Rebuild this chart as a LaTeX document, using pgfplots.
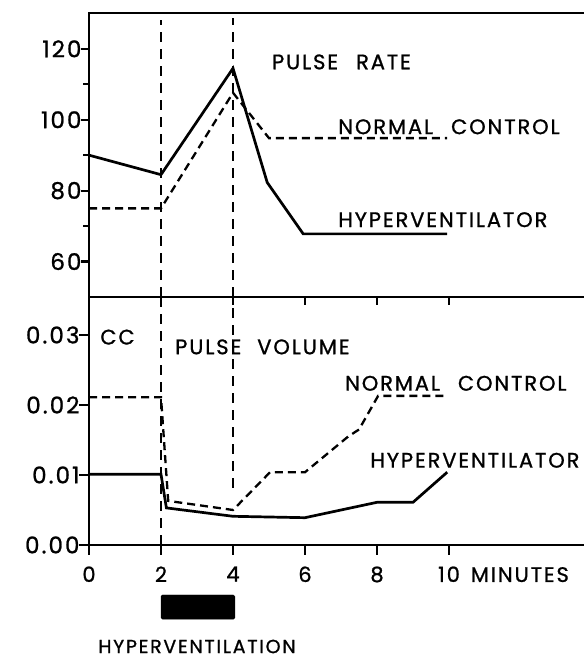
\documentclass[border=0pt]{standalone}
\usepackage{fontspec}
\setmainfont{Poppins}[LetterSpace=9, FakeBold=1]
\usepackage{pgfplots}
\pgfplotsset{compat=1.18}

\begin{document}
\begin{tikzpicture}
\useasboundingbox (0pt,0pt) rectangle (583pt,660pt);
\tikzset{
  txt/.style={anchor=west, inner sep=0pt, font=\fontsize{21}{21}\selectfont},
  hyper/.style={line width=2.7pt},
  norm/.style={line width=2.3pt, dash pattern=on 8pt off 5pt},
  vline/.style={line width=1.9pt, dash pattern=on 10pt off 7pt},
}
\pgfplotsset{
  common/.style={
    scale only axis, width=503pt, xmin=0, xmax=13.972,
    clip=false,
    axis line style={line width=2.6pt},
    tick style={line width=2.2pt, black},
    minor tick length=6pt,
    tick align=outside, tick pos=left,
    /pgf/number format/assume math mode=true,
    xticklabel style={font=\fontsize{21}{21}\selectfont},
    yticklabel style={font=\fontsize{23}{23}\selectfont, xshift=4pt},
  },
}

% ---------------- top panel: pulse rate ----------------
\begin{axis}[common, at={(89pt,363pt)}, anchor=south west, height=284pt,
  ymin=50, ymax=130.1,
  xtick={0,2,4,6,8,10}, xticklabels={},
  major tick length=8pt,
  ytick={60,80,100,120}, minor ytick={70,90,110}]
\addplot[hyper] coordinates {(0,90)(2,84.5)(4,114.5)(4.95,82.3)(5.95,67.8)(9.95,67.8)};
\addplot[norm] coordinates {(0,75)(2,75)(4,107.6)(5,94.8)(9.95,94.8)};
\addplot[vline] coordinates {(2,50)(2,128)};
\addplot[vline] coordinates {(4,50)(4,128.6)};
\node[txt] at (axis cs:5.08,116.3) {PULSE\hspace{18pt}RATE};
\node[txt] at (axis cs:6.92,98.0) {NORMAL\hspace{18pt}CONTROL};
\node[txt] at (axis cs:6.92,71.8) {HYPERVENTILATOR};
\end{axis}

% ---------------- bottom panel: pulse volume ----------------
\begin{axis}[common, at={(89pt,115pt)}, anchor=south west, height=248pt,
  ymin=0, ymax=0.03543,
  major tick length=10pt,
  xtick={0,2,4,6,8,10},
  xticklabels={0,2,4,6,8,10\rlap{\hspace{11pt}MINUTES}},
  xticklabel style={yshift=-8pt},
  ytick={0,0.01,0.02,0.03},
  yticklabels={0.00,0.01,0.02,0.03},
  scaled y ticks=false]
\addplot[hyper] coordinates {(0,0.0101)(2,0.0101)(2.15,0.0053)(4,0.0041)(6,0.0039)(8,0.0061)(9,0.0061)(9.95,0.0104)};
\addplot[norm] coordinates {(0,0.0211)(2,0.0211)(2.2,0.0063)(4,0.0050)(5.03,0.0104)(6,0.0104)(7.2,0.0155)(7.5,0.0165)(8.03,0.0213)(9.95,0.0213)};
\addplot[vline] coordinates {(2,0)(2,0.03543)};
\addplot[vline] coordinates {(4,0.0082)(4,0.03543)};
\addplot[fill=black, draw=black, rounded corners=1.5pt] coordinates {(2,-0.00714)(4.05,-0.00714)(4.05,-0.0106)(2,-0.0106)} --cycle;
\node[txt] at (axis cs:0.31,0.0297) {CC};
\node[txt] at (axis cs:2.39,0.0283) {PULSE\hspace{16pt}VOLUME};
\node[txt] at (axis cs:7.11,0.0231) {NORMAL\hspace{18pt}CONTROL};
\node[txt] at (axis cs:7.81,0.0121) {HYPERVENTILATOR};
\node[anchor=center, inner sep=0pt, font=\fontsize{19}{19}\selectfont] at (axis cs:3.0,-0.0145) {HYPERVENTILATION};
\end{axis}
\end{tikzpicture}
\end{document}
